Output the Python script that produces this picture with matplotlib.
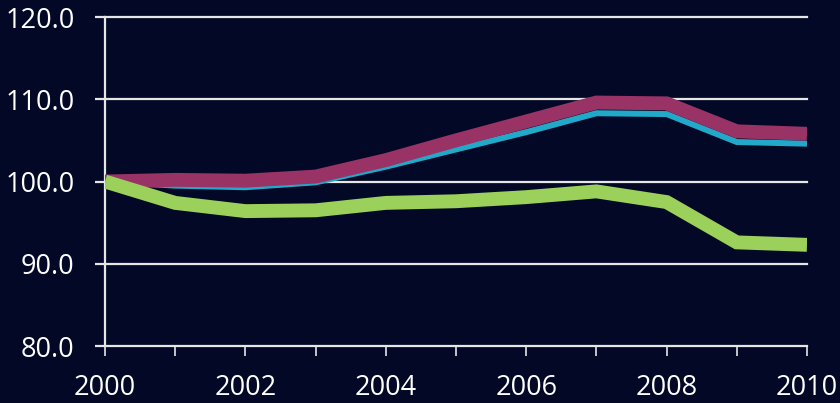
import matplotlib
matplotlib.use('Agg')
import matplotlib.pyplot as plt

years = [2000, 2001, 2002, 2003, 2004, 2005, 2006, 2007, 2008, 2009, 2010]
cyan_vals = [100.0, 99.5, 99.3, 99.9, 101.8, 103.9, 106.0, 108.3, 108.2, 104.8, 104.6]
magenta_vals = [100.0, 100.2, 100.1, 100.6, 102.6, 105.0, 107.3, 109.6, 109.5, 106.1, 105.8]
green_vals = [100.0, 97.4, 96.4, 96.5, 97.4, 97.6, 98.1, 98.8, 97.5, 92.6, 92.3]
yticks = [80.0, 90.0, 100.0, 110.0, 120.0]
xticks = [2000, 2002, 2004, 2006, 2008, 2010]

bg = '#020826'
plt.rcParams['font.family'] = ['Open Sans', 'DejaVu Sans']

fig = plt.figure(figsize=(8.4, 4.03), dpi=100)
fig.patch.set_facecolor(bg)
ax = fig.add_axes([0.125, 0.1414, 0.8357, 0.8164])
ax.set_facecolor(bg)

kw = dict(solid_joinstyle='miter', solid_capstyle='butt')
ax.plot(years, cyan_vals, color='#22a9c9', lw=4.3, zorder=3, **kw)
ax.plot(years, magenta_vals, color='#993366', lw=10, zorder=4, **kw)
ax.plot(years, green_vals, color='#9bd05a', lw=10, zorder=5, **kw)

ax.set_xlim(2000, 2010)
ax.set_ylim(80, 120)
ax.set_yticks(yticks)
ax.set_yticklabels(['%.1f' % v for v in yticks])
ax.set_xticks(years)
ax.set_xticklabels([str(y) if y in xticks else '' for y in years])

for y in yticks[1:]:
    ax.axhline(y, color='#e6e6e6', lw=1.6, zorder=1, clip_on=False)

for s in ['top', 'right']:
    ax.spines[s].set_visible(False)
for s in ['left', 'bottom']:
    ax.spines[s].set_color('#e6e6e6')
    ax.spines[s].set_linewidth(1.6)

ax.tick_params(axis='x', colors='#e6e6e6', length=7, width=1.2, direction='out',
               labelsize=19.5, labelcolor='white', pad=13)
ax.tick_params(axis='y', colors='#e6e6e6', length=7, width=1.6, direction='out',
               labelsize=19.5, labelcolor='white', pad=15)

fig.savefig('out.png', dpi=100, facecolor=bg)
